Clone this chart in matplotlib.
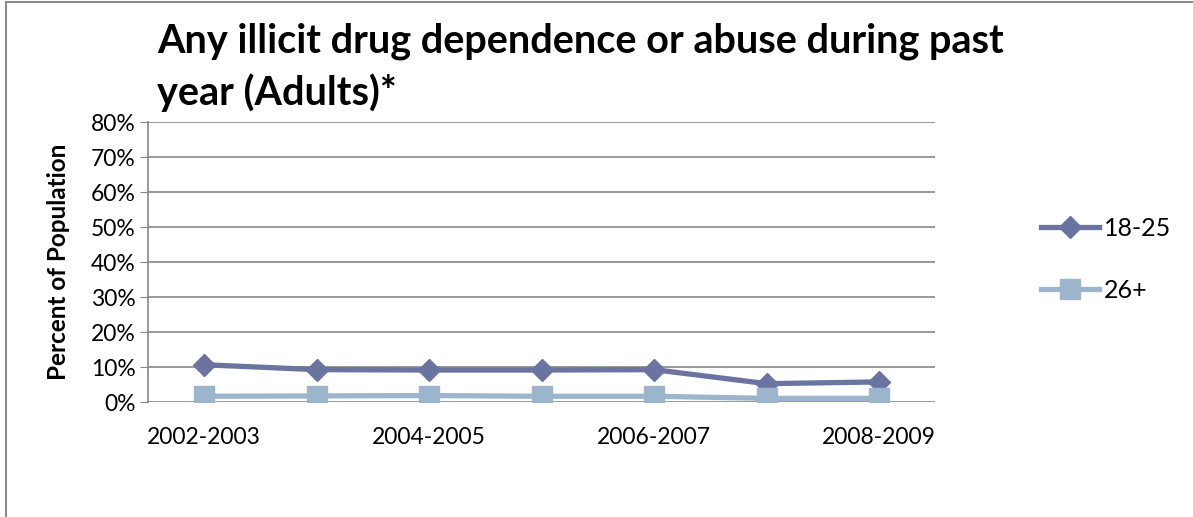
import matplotlib
matplotlib.use("Agg")
import matplotlib.pyplot as plt
from matplotlib.patches import Rectangle

periods = ["2002-2003", "2003-2004", "2004-2005", "2005-2006",
           "2006-2007", "2007-2008", "2008-2009"]
age_18_25 = [10.7, 9.3, 9.2, 9.2, 9.3, 5.3, 5.8]
age_26_plus = [1.7, 1.8, 1.9, 1.7, 1.7, 1.1, 1.1]
y_ticks = [0, 10, 20, 30, 40, 50, 60, 70, 80]

plt.rcParams["font.family"] = ["Lato", "DejaVu Sans"]

fig = plt.figure(figsize=(11.93, 5.17), dpi=100)
fig.patches.append(Rectangle((0.005, -0.05), 1.2, 1.046, transform=fig.transFigure,
                             fill=False, edgecolor="#8c8c8c", linewidth=1.5))

ax = fig.add_axes([0.124, 0.222, 0.66, 0.542])
x = list(range(len(periods)))

ax.plot(x, age_18_25, color="#6b74a0", linewidth=3.8, marker="D",
        markersize=11, markerfacecolor="#6b74a0", markeredgecolor="#6b74a0",
        label="18-25", zorder=3)
ax.plot(x, age_26_plus, color="#9db5cc", linewidth=3.8, marker="s",
        markersize=14, markerfacecolor="#9db5cc", markeredgecolor="#9db5cc",
        label="26+", zorder=3)

ax.set_xlim(-0.5, len(periods) - 0.5)
ax.set_ylim(0, 80)
ax.set_yticks(y_ticks)
ax.set_yticklabels([f"{v}%" for v in y_ticks], fontsize=16.5)
ax.set_xticks(x[::2])
ax.set_xticklabels(periods[::2], fontsize=16.5)
ax.tick_params(axis="x", length=0, pad=18)
ax.tick_params(axis="y", length=6, color="#868686", pad=3)

ax.grid(axis="y", color="#868686", linewidth=1.2)
ax.set_axisbelow(True)
for side in ["top", "right", "bottom"]:
    ax.spines[side].set_visible(False)
ax.spines["left"].set_color("#868686")
ax.spines["left"].set_linewidth(1.2)

ax.set_ylabel("Percent of Population", fontsize=17.5, fontweight="bold", labelpad=15)

fig.text(0.132, 0.957, "Any illicit drug dependence or abuse during past\nyear (Adults)*",
         fontsize=28.5, fontweight="bold", ha="left", va="top", linespacing=1.42)

leg = fig.legend(loc="center left", bbox_to_anchor=(0.854, 0.498), frameon=False,
                 fontsize=18, handlelength=2.3, labelspacing=1.55, handletextpad=0.2)

fig.savefig("out.png", dpi=100)
